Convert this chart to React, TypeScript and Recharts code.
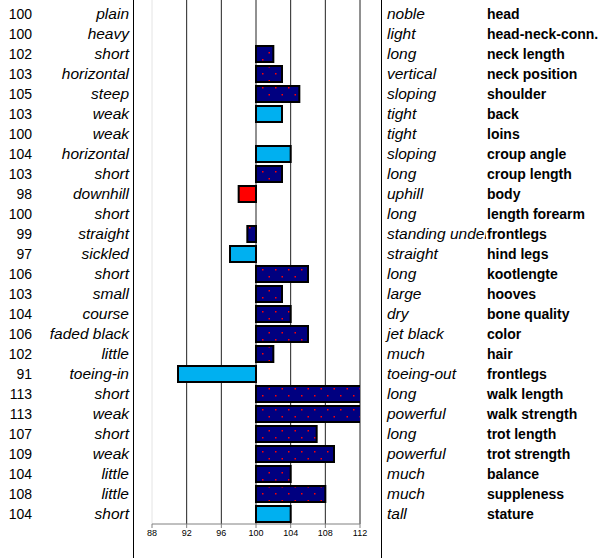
import { BarChart, Bar, XAxis, YAxis, CartesianGrid, ReferenceLine } from "recharts";

const traits = [
  "head", "head-neck-conn.", "neck length", "neck position", "shoulder", "back", "loins",
  "croup angle", "croup length", "body", "length forearm", "frontlegs", "hind legs",
  "kootlengte", "hooves", "bone quality", "color", "hair", "frontlegs", "walk length",
  "walk strength", "trot length", "trot strength", "balance", "suppleness", "stature",
];
const lowLabels = [
  "plain", "heavy", "short", "horizontal", "steep", "weak", "weak", "horizontal", "short",
  "downhill", "short", "straight", "sickled", "short", "small", "course", "faded black",
  "little", "toeing-in", "short", "weak", "short", "weak", "little", "little", "short",
];
const highLabels = [
  "noble", "light", "long", "vertical", "sloping", "tight", "tight", "sloping", "long",
  "uphill", "long", "standing under", "straight", "long", "large", "dry", "jet black",
  "much", "toeing-out", "long", "powerful", "long", "powerful", "much", "much", "tall",
];
const scores = [
  100, 100, 102, 103, 105, 103, 100, 104, 103, 98, 100, 99, 97,
  106, 103, 104, 106, 102, 91, 113, 113, 107, 109, 104, 108, 104,
];
// n = navy dotted, b = light blue, r = red
const barKinds = [
  "n", "n", "n", "n", "n", "b", "n", "b", "n", "r", "n", "n", "b",
  "n", "n", "n", "n", "n", "b", "n", "n", "n", "n", "n", "n", "b",
];
const xTicks = [88, 92, 96, 100, 104, 108, 112];

const fills: Record<string, string> = { n: "url(#dots)", b: "#00B0F0", r: "#FF0000" };
const font = "'Liberation Sans', Arial, sans-serif";

const data = traits.map((t, i) => ({
  id: i,
  trait: t,
  score: scores[i],
  kind: barKinds[i],
  range: scores[i] === 100 ? null : [Math.min(scores[i], 100), Math.max(scores[i], 100)],
}));

function RowTick(props: any) {
  const { y, payload } = props;
  const i = payload.value;
  return (
    <g fontFamily={font} fill="#000">
      <text x={32} y={y} dy={5} fontSize={14} textAnchor="end">{scores[i]}</text>
      <text x={129} y={y} dy={5} fontSize={15.5} textAnchor="end" fontStyle="italic">{lowLabels[i]}</text>
      {/* the high label column is cut off where the trait column starts */}
      <svg x={382} y={y - 10} width={104} height={20} overflow="hidden">
        <text x={5} y={15} fontSize={15.5} fontStyle="italic" fontFamily={font} fill="#000">
          {highLabels[i]}
        </text>
      </svg>
      <text x={487} y={y} dy={5} fontSize={14} textAnchor="start" fontWeight="bold">{traits[i]}</text>
    </g>
  );
}

function BarShape(props: any) {
  const { x, y, width, height, payload } = props;
  if (!payload || payload.range == null || !width || Math.abs(width) < 0.5) return null;
  const left = width < 0 ? x + width : x;
  return (
    <rect
      x={left}
      y={y}
      width={Math.abs(width)}
      height={height}
      fill={fills[payload.kind]}
      stroke="#000"
      strokeWidth={2}
    />
  );
}

export default function App() {
  return (
    <div style={{ position: "absolute", left: 0, top: 0, width: 612, height: 558, background: "#fff" }}>
      <div
        style={{
          position: "absolute",
          left: 133,
          top: 0,
          width: 247,
          height: 558,
          borderLeft: "1px solid #000",
          borderRight: "1px solid #000",
        }}
      />
      <div style={{ position: "absolute", left: 0, top: 0 }}>
        <BarChart
          width={612}
          height={558}
          data={data}
          layout="vertical"
          margin={{ top: 0, right: 252, bottom: 0, left: 0 }}
          barCategoryGap={2}
        >
          <defs>
            <pattern id="dots" width="13" height="14" patternUnits="userSpaceOnUse">
              <rect width="13" height="14" fill="#000080" />
              <rect x="2" y="3" width="1.5" height="1.5" fill="#FF0000" />
              <rect x="8.5" y="10" width="1.5" height="1.5" fill="#FF0000" />
            </pattern>
          </defs>
          <CartesianGrid
            horizontal={false}
            stroke="#222"
            verticalCoordinatesGenerator={({ offset }: any) =>
              xTicks.slice(1).map((t) => offset.left + ((t - 88) / 24) * offset.width)
            }
          />
          <ReferenceLine x={88} stroke="#e4e4e4" />
          <XAxis
            type="number"
            domain={[88, 112]}
            ticks={xTicks}
            allowDataOverflow
            height={34}
            tickSize={4}
            axisLine={{ stroke: "#808080" }}
            tickLine={{ stroke: "#808080" }}
            tick={{ fontSize: 9, fill: "#000", fontFamily: font }}
          />
          <YAxis
            type="category"
            dataKey="id"
            width={152}
            padding={{ top: 4, bottom: 0 }}
            axisLine={false}
            tickLine={false}
            interval={0}
            tick={<RowTick />}
          />
          <Bar dataKey="range" barSize={16} isAnimationActive={false} shape={<BarShape />} />
        </BarChart>
      </div>
    </div>
  );
}
